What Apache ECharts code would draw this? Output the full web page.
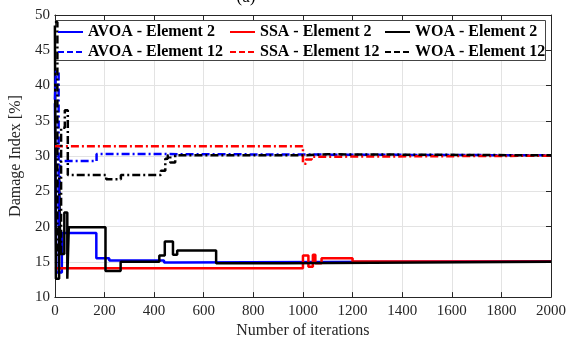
<!DOCTYPE html>
<html>
<head>
<meta charset="utf-8">
<script src="https://cdn.jsdelivr.net/npm/echarts@6/dist/echarts.min.js"></script>
<style>
  html, body { margin: 0; padding: 0; background: #fff; }
  #chart { width: 569px; height: 344px; }
</style>
</head>
<body>
<div id="chart"></div>
<script>
// change points: [iteration, damage index %], held until the next point
var avoaE2 = [[0, 37.5], [6, 13.5], [28, 19.1], [167, 15.5], [219, 15.2], [440, 14.9], [480, 15.1], [2000, 15.1]]
var ssaE2 = [[0, 14.1], [1000, 15.9], [1022, 14.3], [1040, 16.0], [1050, 14.8], [1075, 15.5], [1200, 15.05], [2000, 15.05]]
var woaE2 = [[0, 48.5], [4, 12.6], [17, 27], [22, 16.1], [38, 22], [50, 12.6], [56, 19.9], [204, 13.7], [265, 15.0],
  [421, 15.9], [443, 17.9], [476, 16.0], [493, 16.6], [650, 14.8], [920, 15.0], [2000, 15.0]]
var avoaE12 = [[0, 38], [4, 42], [15, 20], [22, 29.3], [168, 30.3], [230, 30.1], [2000, 30.05]]
var ssaE12 = [[0, 31.4], [1000, 28.9], [1012, 29.5], [1035, 29.9], [1060, 30.05], [2000, 30.05]]
var woaE12 = [[0, 49], [10, 16], [25, 34], [40, 36.5], [52, 27.3], [207, 26.7], [266, 27.3], [427, 27.9], [445, 29.6],
  [455, 30.1], [465, 29.1], [485, 30.1], [1000, 30.25], [1100, 30.1], [2000, 30.05]]

var xTicks = [0, 2000, 200]
var yTicks = [10, 50, 5]

var font = 'Liberation Serif'
var dashDot = [8, 3, 2, 3]

function line(name, data, color, dashed) {
  return {
    "name": name,
    "type": "line",
    "data": data,
    "step": "end",
    "showSymbol": false,
    "symbol": "none",
    "animation": false,
    "lineStyle": {
      "color": color,
      "width": 2.5,
      "type": dashed ? dashDot : "solid"
    },
    "itemStyle": { "color": color }
  }
}

function legendCol(left, names) {
  return {
    "orient": "vertical",
    "left": left,
    "top": 24,
    "padding": 0,
    "itemGap": 4,
    "itemWidth": 25,
    "itemHeight": 14,
    "data": [
      { "name": names[0] },
      { "name": names[1], "lineStyle": { "type": [6, 3] } }
    ],
    "selectedMode": false,
    "itemStyle": { "opacity": 0 },
    "textStyle": {
      "fontFamily": font,
      "fontWeight": "bold",
      "fontSize": 16,
      "color": "#000"
    }
  }
}

var axisColor = '#262626'

var chart = echarts.init(document.getElementById('chart'))
var option = {
  "animation": false,
  "title": {
    "text": "(a)",
    "left": 241,
    "textAlign": "center",
    "top": -16,
    "textStyle": { "fontFamily": font, "fontSize": 17, "fontWeight": "normal", "color": "#000" }
  },
  "grid": { "left": 44, "right": 14, "top": 15, "bottom": 41 },
  "legend": [
    legendCol(57, ["AVOA - Element 2", "AVOA - Element 12"]),
    legendCol(229, ["SSA - Element 2", "SSA - Element 12"]),
    legendCol(384, ["WOA - Element 2", "WOA - Element 12"])
  ],
  "graphic": [{
    "type": "rect",
    "z": 3,
    "shape": { "x": 55.5, "y": 20.5, "width": 490, "height": 40 },
    "style": { "fill": "#fff", "stroke": "#444", "lineWidth": 1 }
  }],
  "xAxis": [{
    "type": "value",
    "min": xTicks[0], "max": xTicks[1], "interval": xTicks[2],
    "name": "Number of iterations",
    "nameLocation": "middle",
    "nameGap": 24,
    "nameTextStyle": { "fontFamily": font, "fontSize": 16, "color": axisColor },
    "axisLine": { "show": true, "onZero": false, "lineStyle": { "color": axisColor, "width": 1 } },
    "axisTick": { "show": true, "inside": true, "length": 5, "lineStyle": { "color": axisColor } },
    "axisLabel": {
      "fontFamily": font, "fontSize": 15, "color": axisColor, "margin": 6, "showMaxLabel": true,
      formatter: function (v) { return String(v) }
    },
    "splitLine": { "show": true, "lineStyle": { "color": "#e3e3e3", "width": 1 } }
  }, {
    "type": "value",
    "position": "top",
    "min": xTicks[0], "max": xTicks[1], "interval": xTicks[2],
    "axisLine": { "show": true, "onZero": false, "lineStyle": { "color": axisColor, "width": 1 } },
    "axisTick": { "show": true, "inside": true, "length": 5, "lineStyle": { "color": axisColor } },
    "axisLabel": { "show": false },
    "splitLine": { "show": false }
  }],
  "yAxis": [{
    "type": "value",
    "min": yTicks[0], "max": yTicks[1], "interval": yTicks[2],
    "name": "Damage Index [%]",
    "nameLocation": "middle",
    "nameGap": 24,
    "nameTextStyle": { "fontFamily": font, "fontSize": 16, "color": axisColor },
    "axisLine": { "show": true, "onZero": false, "lineStyle": { "color": axisColor, "width": 1 } },
    "axisTick": { "show": true, "inside": true, "length": 5, "lineStyle": { "color": axisColor } },
    "axisLabel": { "fontFamily": font, "fontSize": 15, "color": axisColor, "margin": 5 },
    "splitLine": { "show": true, "lineStyle": { "color": "#e3e3e3", "width": 1 } }
  }, {
    "type": "value",
    "position": "right",
    "min": yTicks[0], "max": yTicks[1], "interval": yTicks[2],
    "axisLine": { "show": true, "onZero": false, "lineStyle": { "color": axisColor, "width": 1 } },
    "axisTick": { "show": true, "inside": true, "length": 5, "lineStyle": { "color": axisColor } },
    "axisLabel": { "show": false },
    "splitLine": { "show": false }
  }],
  "series": [
    line("AVOA - Element 2", avoaE2, "#0000ff", false),
    line("SSA - Element 2", ssaE2, "#ff0000", false),
    line("WOA - Element 2", woaE2, "#000000", false),
    line("AVOA - Element 12", avoaE12, "#0000ff", true),
    line("SSA - Element 12", ssaE12, "#ff0000", true),
    line("WOA - Element 12", woaE12, "#000000", true)
  ]
}
chart.setOption(option)
</script>
</body>
</html>
